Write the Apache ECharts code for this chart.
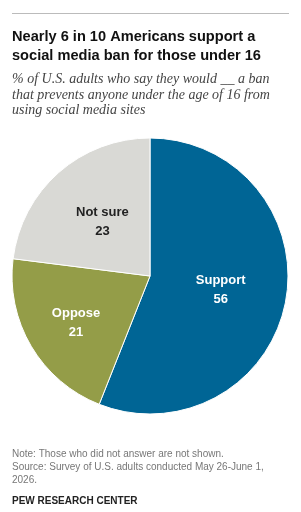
<!DOCTYPE html>
<html>
<head>
<meta charset="utf-8">
<title>Social media ban</title>
<script src="https://cdn.jsdelivr.net/npm/echarts@6/dist/echarts.min.js"></script>
</head>
<body style="margin:0; background:#fff">
<div id="main" style="width:301px; height:512px"></div>
<script type="text/javascript">
// answers, values (%), slice colours
var answers = ['Support', 'Oppose', 'Not sure'];
var shares = [56, 21, 23];
var sliceColors = ['#006595', '#949d48', '#d9d9d5'];
var labelColors = ['#ffffff', '#ffffff', '#222222'];

var chart = echarts.init(document.getElementById('main'));

var pieData = [];
for (var i = 0; i < answers.length; i++) {
  pieData.push({
    name: answers[i],
    value: shares[i],
    itemStyle: { color: sliceColors[i] },
    label: { color: labelColors[i] }
  });
}
// oppose label sits a bit further out in the original
pieData[1].label.offset = [-12, 10];

var option = {
  backgroundColor: '#ffffff',
  animation: false,
  title: [
    {
      text: 'Nearly 6 in 10 Americans support a\nsocial media ban for those under 16',
      left: 7, top: 22,
      textStyle: { fontFamily: 'Liberation Sans', fontWeight: 'bold', fontSize: 14.6, color: '#111', lineHeight: 19 }
    },
    {
      text: '% of U.S. adults who say they would __ a ban\nthat prevents anyone under the age of 16 from\nusing social media sites',
      left: 7, top: 67,
      textStyle: { fontFamily: 'Liberation Serif', fontStyle: 'italic', fontWeight: 'normal', fontSize: 14, color: '#444', lineHeight: 15.5 }
    },
    {
      text: 'Note: Those who did not answer are not shown.\nSource: Survey of U.S. adults conducted May 26-June 1,\n2026.',
      left: 7, top: 443,
      textStyle: { fontFamily: 'Liberation Sans', fontWeight: 'normal', fontSize: 10, color: '#777', lineHeight: 12.8 }
    },
    {
      text: 'PEW RESEARCH CENTER',
      left: 7, top: 491,
      textStyle: { fontFamily: 'Liberation Sans', fontWeight: 'bold', fontSize: 10, color: '#222' }
    }
  ],
  graphic: [
    { type: 'rect', left: 12, top: 13, shape: { width: 277, height: 1 }, style: { fill: '#bbbbbb' } }
  ],
  series: [{
    type: 'pie',
    center: [150, 276],
    radius: [0, 138],
    startAngle: 90,
    clockwise: true,
    data: pieData,
    itemStyle: { borderColor: '#ffffff', borderWidth: 1 },
    label: {
      show: true,
      position: 'inside',
      formatter: '{b}\n{c}',
      fontFamily: 'Liberation Sans',
      fontWeight: 'bold',
      fontSize: 13,
      lineHeight: 19
    },
    labelLine: { show: false },
    emphasis: { disabled: true }
  }]
};

chart.setOption(option);
</script>
</body>
</html>
